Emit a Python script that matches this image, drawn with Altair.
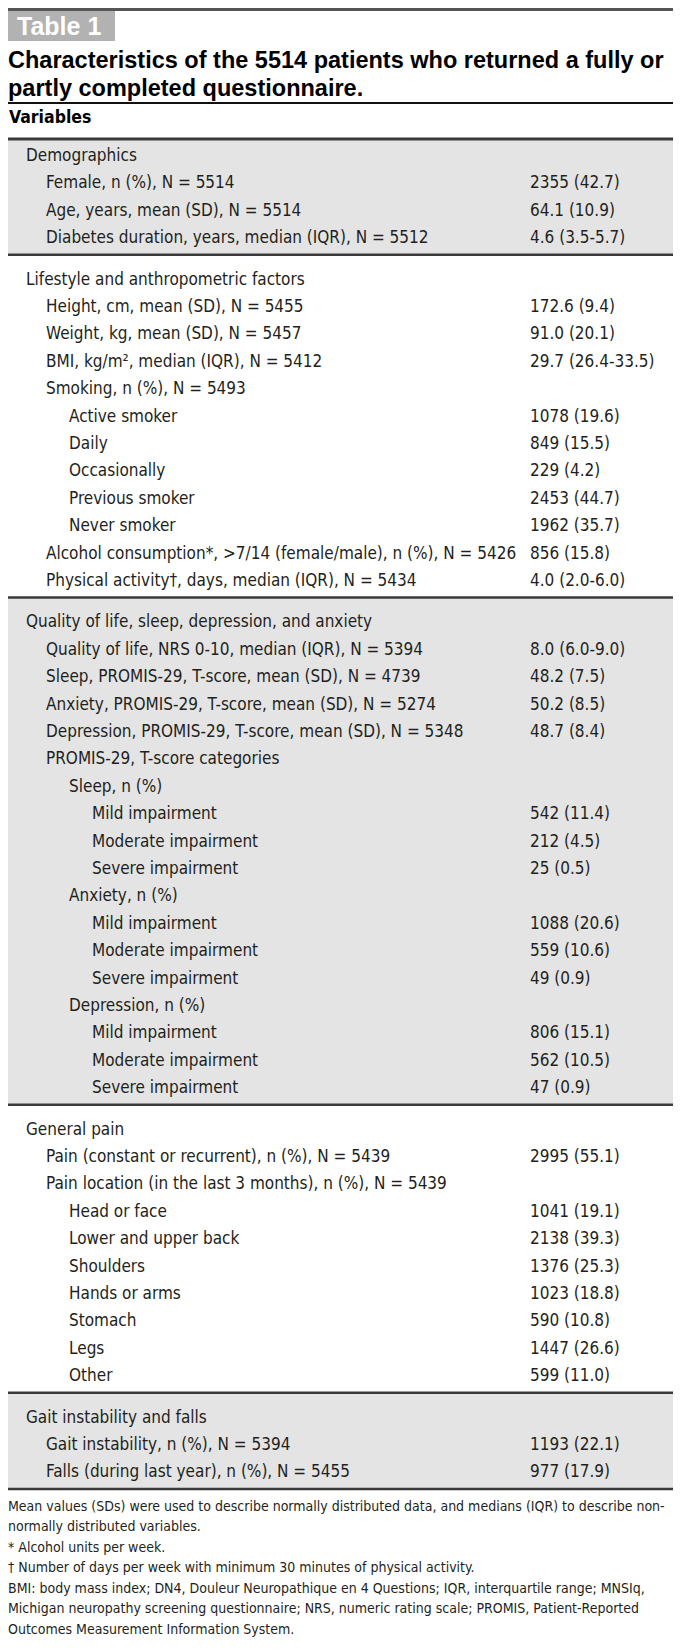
import altair as alt
import pandas as pd

# ---------------- data ----------------
TAG = "Table 1"
TITLE_LINES = [
    "Characteristics of the 5514 patients who returned a fully or",
    "partly completed questionnaire.",
]
HEADER = "Variables"

section_titles = [
    "Demographics",
    "Lifestyle and anthropometric factors",
    "Quality of life, sleep, depression, and anxiety",
    "General pain",
    "Gait instability and falls",
]
section_shaded = [True, False, True, False, True]

labels = [
    ["Female, n (%), N = 5514",
     "Age, years, mean (SD), N = 5514",
     "Diabetes duration, years, median (IQR), N = 5512"],
    ["Height, cm, mean (SD), N = 5455",
     "Weight, kg, mean (SD), N = 5457",
     "BMI, kg/m\u00b2, median (IQR), N = 5412",
     "Smoking, n (%), N = 5493",
     "Active smoker", "Daily", "Occasionally", "Previous smoker", "Never smoker",
     "Alcohol consumption*, >7/14 (female/male), n (%), N = 5426",
     "Physical activity\u2020, days, median (IQR), N = 5434"],
    ["Quality of life, NRS 0-10, median (IQR), N = 5394",
     "Sleep, PROMIS-29, T-score, mean (SD), N = 4739",
     "Anxiety, PROMIS-29, T-score, mean (SD), N = 5274",
     "Depression, PROMIS-29, T-score, mean (SD), N = 5348",
     "PROMIS-29, T-score categories",
     "Sleep, n (%)", "Mild impairment", "Moderate impairment", "Severe impairment",
     "Anxiety, n (%)", "Mild impairment", "Moderate impairment", "Severe impairment",
     "Depression, n (%)", "Mild impairment", "Moderate impairment", "Severe impairment"],
    ["Pain (constant or recurrent), n (%), N = 5439",
     "Pain location (in the last 3 months), n (%), N = 5439",
     "Head or face", "Lower and upper back", "Shoulders", "Hands or arms",
     "Stomach", "Legs", "Other"],
    ["Gait instability, n (%), N = 5394",
     "Falls (during last year), n (%), N = 5455"],
]
levels = [
    [1, 1, 1],
    [1, 1, 1, 1, 2, 2, 2, 2, 2, 1, 1],
    [1, 1, 1, 1, 1, 2, 3, 3, 3, 2, 3, 3, 3, 2, 3, 3, 3],
    [1, 1, 2, 2, 2, 2, 2, 2, 2],
    [1, 1],
]
values = [
    ["2355 (42.7)", "64.1 (10.9)", "4.6 (3.5-5.7)"],
    ["172.6 (9.4)", "91.0 (20.1)", "29.7 (26.4-33.5)", "",
     "1078 (19.6)", "849 (15.5)", "229 (4.2)", "2453 (44.7)", "1962 (35.7)",
     "856 (15.8)", "4.0 (2.0-6.0)"],
    ["8.0 (6.0-9.0)", "48.2 (7.5)", "50.2 (8.5)", "48.7 (8.4)", "",
     "", "542 (11.4)", "212 (4.5)", "25 (0.5)",
     "", "1088 (20.6)", "559 (10.6)", "49 (0.9)",
     "", "806 (15.1)", "562 (10.5)", "47 (0.9)"],
    ["2995 (55.1)", "", "1041 (19.1)", "2138 (39.3)", "1376 (25.3)",
     "1023 (18.8)", "590 (10.8)", "1447 (26.6)", "599 (11.0)"],
    ["1193 (22.1)", "977 (17.9)"],
]
footnotes = [
    "Mean values (SDs) were used to describe normally distributed data, and medians (IQR) to describe non-",
    "normally distributed variables.",
    "* Alcohol units per week.",
    "\u2020 Number of days per week with minimum 30 minutes of physical activity.",
    "BMI: body mass index; DN4, Douleur Neuropathique en 4 Questions; IQR, interquartile range; MNSIq,",
    "Michigan neuropathy screening questionnaire; NRS, numeric rating scale; PROMIS, Patient-Reported",
    "Outcomes Measurement Information System.",
]

# ---------------- layout ----------------
W, H = 665, 1630
BODY_FONT = "DejaVu Sans Condensed, Liberation Sans, sans-serif"
HEAD_FONT = "Liberation Sans, Arial, sans-serif"
TEXT_COLOR = "#231f20"
SHADE = "#e4e4e4"
RULE = "#3a3a3a"

INDENT = {0: 18, 1: 38, 2: 61, 3: 84}
VALUE_X = 522
FIRST_BASELINE = 153
PITCH = 27.4
GAP = 14
RULE_BELOW = 11.5

rows = []
i = 0
sec_bounds = []
for s, title in enumerate(section_titles):
    start = i
    rows.append(dict(label=title, value="", level=0, sec=s, idx=i))
    i += 1
    for lab, lev, val in zip(labels[s], levels[s], values[s]):
        rows.append(dict(label=lab, value=val, level=lev, sec=s, idx=i))
        i += 1
    sec_bounds.append((start, i - 1))

df = pd.DataFrame(rows)
df["y"] = FIRST_BASELINE + df["idx"] * PITCH + df["sec"] * GAP
df["x"] = df["level"].map(INDENT)
df["vx"] = VALUE_X

top_rule_y = 131
sec_rules = []
shades = []
prev = top_rule_y
for s, (a, b) in enumerate(sec_bounds):
    last_y = FIRST_BASELINE + b * PITCH + s * GAP
    ry = last_y + RULE_BELOW
    if section_shaded[s]:
        shades.append(dict(x0=0, x1=W, y0=prev, y1=ry))
    sec_rules.append(dict(y=ry, w=2.5))
    prev = ry
rules_df = pd.DataFrame(
    [dict(y=1.5, w=3, c="#555555"), dict(y=95, w=2, c="#111111"),
     dict(y=top_rule_y, w=3, c=RULE)]
    + [dict(y=r["y"], w=r["w"], c=RULE) for r in sec_rules]
)
shade_df = pd.DataFrame(shades)

foot_start = prev + 22
FOOT_LAST = H - 4
FOOT_PITCH = (FOOT_LAST - foot_start) / (len(footnotes) - 1)
foot_df = pd.DataFrame(
    dict(text=footnotes, x=0, y=[foot_start + k * FOOT_PITCH for k in range(len(footnotes))])
)
title_df = pd.DataFrame(dict(text=TITLE_LINES, x=0, y=[60, 88]))
tag_box_df = pd.DataFrame([dict(x0=0, x1=107, y0=3, y1=33)])
tag_df = pd.DataFrame([dict(text=TAG, x=9, y=27)])
head_df = pd.DataFrame([dict(text=HEADER, x=1, y=115)])

XS = alt.Scale(domain=[0, W], range=[0, W])
YS = alt.Scale(domain=[0, H], range=[0, H])


def X(f):
    return alt.X(f, type="quantitative", scale=XS, axis=None)


def Y(f):
    return alt.Y(f, type="quantitative", scale=YS, axis=None)


shade_layer = alt.Chart(shade_df).mark_rect(color=SHADE).encode(
    x=X("x0"), x2="x1", y=Y("y0"), y2="y1")

tag_box = alt.Chart(tag_box_df).mark_rect(color="#b2b2b2").encode(
    x=X("x0"), x2="x1", y=Y("y0"), y2="y1")

rule_layer = alt.Chart(rules_df).mark_rule().encode(
    y=Y("y"), x=alt.value(0), x2=alt.value(W),
    strokeWidth=alt.StrokeWidth("w:Q", scale=None, legend=None),
    color=alt.Color("c:N", scale=None, legend=None))

tag_text = alt.Chart(tag_df).mark_text(
    align="left", baseline="alphabetic", font=HEAD_FONT, fontWeight="bold",
    fontSize=25, color="white").encode(x=X("x"), y=Y("y"), text="text")

title_text = alt.Chart(title_df).mark_text(
    align="left", baseline="alphabetic", font=HEAD_FONT, fontWeight="bold",
    fontSize=23.5, color="#000000").encode(x=X("x"), y=Y("y"), text="text")

head_text = alt.Chart(head_df).mark_text(
    align="left", baseline="alphabetic", font=BODY_FONT, fontWeight="bold",
    fontSize=17.5, color="#000000").encode(x=X("x"), y=Y("y"), text="text")

label_text = alt.Chart(df).mark_text(
    align="left", baseline="alphabetic", font=BODY_FONT, fontSize=17,
    color=TEXT_COLOR).encode(x=X("x"), y=Y("y"), text="label")

value_text = alt.Chart(df).mark_text(
    align="left", baseline="alphabetic", font=BODY_FONT, fontSize=17,
    color=TEXT_COLOR).encode(x=X("vx"), y=Y("y"), text="value")

foot_text = alt.Chart(foot_df).mark_text(
    align="left", baseline="alphabetic", font=BODY_FONT, fontSize=14,
    color=TEXT_COLOR).encode(x=X("x"), y=Y("y"), text="text")

chart = alt.layer(
    shade_layer, tag_box, rule_layer, tag_text, title_text, head_text,
    label_text, value_text, foot_text
).properties(
    width=W, height=H, padding=0, autosize="none"
).configure_view(stroke=None)

chart.save("out.html", embed_options={"renderer": "svg", "actions": False})
